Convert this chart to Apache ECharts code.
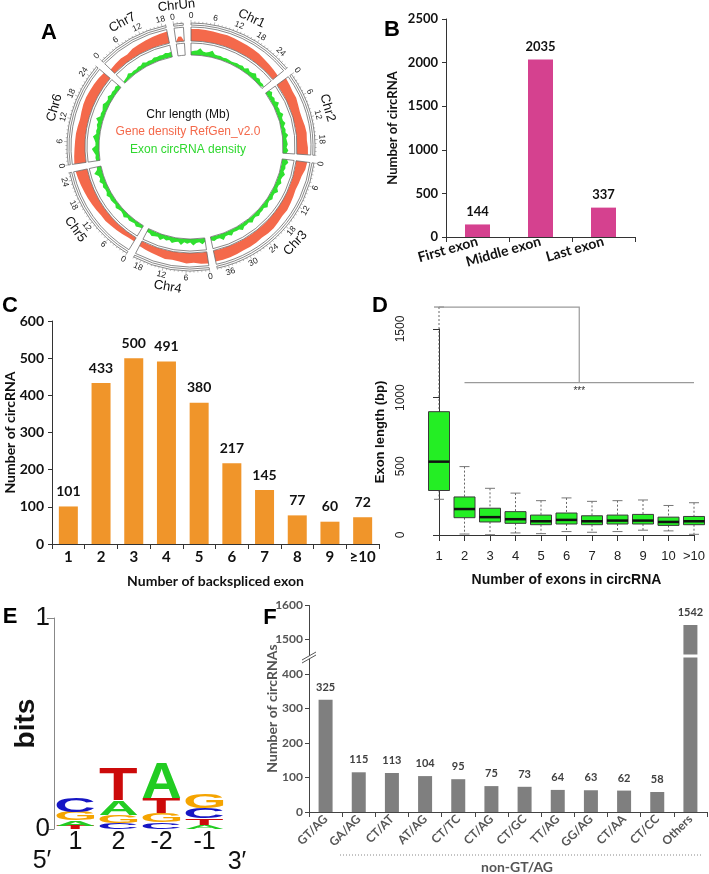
<!DOCTYPE html>
<html><head><meta charset="utf-8">
<script src="https://cdn.jsdelivr.net/npm/echarts@6/dist/echarts.min.js"></script>
<style>html,body{margin:0;padding:0;background:#fff}#c{width:709px;height:874px}</style>
</head><body><div id="c"></div>
<script>
// ================= DATA =================
// Panel A: circos
const chrNames = ['Chr1','Chr2','Chr3','Chr4','Chr5','Chr6','Chr7','ChrUn'];
const chrLengths = [28, 22, 39, 20, 26, 27, 19, 2.5];
const tickStep = 6;
const geneChr1 = [0.85,0.88,0.85,0.82,0.8,0.82,0.78,0.75,0.72,0.7,0.68,0.6,0.55,0.5,0.45];
const geneChr2 = [0.8,0.75,0.7,0.72,0.65,0.6,0.62,0.7,0.75,0.72,0.78,0.8];
const geneChr3 = [0.8,0.75,0.6,0.55,0.5,0.55,0.6,0.65,0.6,0.65,0.7,0.7,0.65,0.7,0.72,0.7,0.75,0.78,0.8,0.8];
const geneChr4 = [0.85,0.8,0.7,0.75,0.65,0.6,0.65,0.55,0.5,0.45,0.4];
const geneChr5 = [0.3,0.3,0.35,0.4,0.45,0.5,0.5,0.55,0.6,0.65,0.7,0.75,0.8,0.85];
const geneChr6 = [0.85,0.8,0.75,0.72,0.7,0.65,0.6,0.65,0.7,0.72,0.7,0.68,0.65,0.6];
const geneChr7 = [0.4,0.45,0.5,0.45,0.6,0.65,0.7,0.75,0.8,0.85];
const geneChrUn = [0,0.35,0.35,0];
const exonChr1 = [0.3,0.35,0.4,0.6,0.35,0.3,0.4,0.55,0.3,0.28,0.3,0.25,0.28,0.25,0.22,0.25,0.3,0.28,0.35,0.25,0.45,0.3,0.35,0.5,0.3,0.4,0.25,0.3,0.2];
const exonChr2 = [0.35,0.5,0.3,0.4,0.3,0.55,0.3,0.35,0.3,0.5,0.3,0.3,0.45,0.25,0.35,0.3,0.5,0.3,0.35,0.4,0.3,0.45,0.3];
const exonChr3 = [0.4,0.55,0.35,0.4,0.3,0.5,0.35,0.3,0.45,0.3,0.3,0.5,0.3,0.3,0.4,0.25,0.3,0.45,0.25,0.3,0.3,0.4,0.25,0.3,0.45,0.25,0.3,0.3,0.5,0.3,0.3,0.25,0.45,0.3,0.3,0.55,0.3,0.3,0.4,0.3];
const exonChr4 = [0.3,0.5,0.3,0.35,0.55,0.3,0.4,0.3,0.55,0.3,0.35,0.5,0.3,0.4,0.3,0.5,0.3,0.35,0.45,0.3,0.3];
const exonChr5 = [0.25,0.3,0.4,0.25,0.3,0.35,0.25,0.45,0.3,0.25,0.3,0.4,0.25,0.3,0.35,0.3,0.45,0.3,0.3,0.4,0.3,0.5,0.35,0.4,0.7,0.4,0.35];
const exonChr6 = [0.3,0.35,0.3,0.45,0.6,0.3,0.3,0.4,0.55,0.3,0.35,0.3,0.4,0.35,0.6,0.3,0.35,0.3,0.4,0.5,0.35,0.3,0.45,0.3,0.35,0.3,0.4,0.3];
const exonChr7 = [0.15,0.2,0.25,0.4,0.25,0.3,0.25,0.35,0.3,0.45,0.3,0.35,0.3,0.4,0.35,0.4,0.35,0.45,0.4,0.45];
const exonChrUn = [];

// Panel B
const exonPosCats = ['First exon','Middle exon','Last exon'];
const exonPosCounts = [144, 2035, 337];

// Panel C
const bsExonCats = ['1','2','3','4','5','6','7','8','9','≥10'];
const bsExonCounts = [101, 433, 500, 491, 380, 217, 145, 77, 60, 72];

// Panel D
const exonNumCats = ['1','2','3','4','5','6','7','8','9','10','>10'];
const lenMin    = [260,   7,   2,  15,  10,  25,  20,  25,  35,  30,   5];
const lenQ1     = [324, 126,  95,  85,  75,  80,  75,  80,  80,  70,  75];
const lenMedian = [534, 189, 130, 115, 100, 110, 100, 105, 105,  95, 100];
const lenQ3     = [898, 277, 195, 170, 145, 160, 140, 145, 150, 130, 135];
const lenMax    = [1660,498, 340, 305, 250, 270, 245, 250, 255, 215, 235];
const sigStart = 0, sigX = 5.5, sigFrom = 1, sigTo = 10, sigTop = 1660, sigBottom = 1110, sigLabel = '***';

// Panel E
const logoPositions = ['1','2','-2','-1'];
const logoLetters = ['A','C','G','T'];
const logoA = [0.025, 0.070, 0.166, 0.019];
const logoC = [0.065, 0.028, 0.033, 0.047];
const logoG = [0.040, 0.038, 0.043, 0.071];
const logoT = [0.015, 0.152, 0.071, 0.033];

// Panel F
const spliceCats = ['GT/AG','GA/AG','CT/AT','AT/AG','CT/TC','CT/AG','CT/GC','TT/AG','GG/AG','CT/AA','CT/CC','Others'];
const spliceCounts = [325, 115, 113, 104, 95, 75, 73, 64, 63, 62, 58, 1542];
const spliceBreak = [400, 1500];

// ================= STYLE / LAYOUT =================
const RED = '#f4694b', GREEN = '#2fe02f', MAG = '#d5418f', ORG = '#f0952a', GRY = '#7f7f7f';
const CX = 191, CY = 147, GAP_MB = 2;
const ARIAL = '"Liberation Sans", Arial, sans-serif';
const CAL = 'Lato, "Open Sans", sans-serif';
const plain = v => String(v);

const geneArrays = [geneChr1, geneChr2, geneChr3, geneChr4, geneChr5, geneChr6, geneChr7, geneChrUn];
const exonArrays = [exonChr1, exonChr2, exonChr3, exonChr4, exonChr5, exonChr6, exonChr7, exonChrUn];
const offsets = []; let acc = 0;
chrLengths.forEach(l => { offsets.push(acc); acc += l + GAP_MB; });
const TOTAL = acc;

function profileData(arrays) {
  const out = [];
  arrays.forEach((vals, ci) => {
    if (!vals.length) return;
    const L = chrLengths[ci];
    vals.forEach((v, k) => out.push([v, offsets[ci] + L * k / (vals.length - 1)]));
    out.push(['-', offsets[ci] + L + GAP_MB / 2]);
  });
  return out;
}
function angOf(p, cs) { return Math.atan2(p[1] - cs.cy, p[0] - cs.cx); }
function tangentRot(dx, dy) {
  let phi = Math.atan2(dx, -dy);
  if (phi < 0) phi += 2 * Math.PI;
  if (phi > Math.PI / 2 && phi < 3 * Math.PI / 2) phi -= Math.PI;
  return -phi;
}
function txt(x, y, text, font, fill, rot) {
  return { type: 'text', x, y, rotation: rot || 0,
    style: { text, font, fill, align: 'center', verticalAlign: 'middle', textAlign: 'center', textVerticalAlign: 'middle' } };
}
function frameRender(params, api) {
  const cs = params.coordSys;
  const a0 = angOf(api.coord([1, api.value(0)]), cs), a1 = angOf(api.coord([1, api.value(1)]), cs);
  return { type: 'sector', shape: { cx: cs.cx, cy: cs.cy, r0: cs.r0, r: cs.r, startAngle: a0, endAngle: a1, clockwise: true },
    style: { fill: 'none', stroke: '#6b6b6b', lineWidth: 0.8 } };
}
const frameData = chrLengths.map((l, i) => [offsets[i], offsets[i] + l]);
const tickData = [], tickLabels = [];
chrLengths.forEach((L, ci) => {
  for (let m = 0; m <= L; m += 1) {
    tickData.push([1, offsets[ci] + m, m % tickStep === 0 ? 1 : 0]);
    tickLabels.push(m % tickStep === 0 ? String(m) : '');
  }
});
function tickRender(params, api) {
  const cs = params.coordSys;
  const p = api.coord([1, api.value(1)]);
  const dx = (p[0] - cs.cx) / cs.r, dy = (p[1] - cs.cy) / cs.r;
  const len = api.value(2) === 1 ? 3 : 1.6;
  const ch = [{ type: 'line', shape: { x1: cs.cx + dx * cs.r, y1: cs.cy + dy * cs.r, x2: cs.cx + dx * (cs.r + len), y2: cs.cy + dy * (cs.r + len) },
    style: { stroke: '#777', lineWidth: 0.5 } }];
  const lab = tickLabels[params.dataIndex];
  if (lab) { const rr = cs.r + 7; ch.push(txt(cs.cx + dx * rr, cs.cy + dy * rr, lab, '8.5px ' + ARIAL, '#222', tangentRot(dx, dy))); }
  return { type: 'group', children: ch };
}
const chrLabelData = chrLengths.map((l, i) => [1, offsets[i] + l / 2]);
function chrLabelRender(params, api) {
  const cs = params.coordSys;
  const p = api.coord([1, api.value(1)]);
  const dx = (p[0] - cs.cx) / cs.r, dy = (p[1] - cs.cy) / cs.r;
  const rr = cs.r + 18;
  return txt(cs.cx + dx * rr, cs.cy + dy * rr, chrNames[params.dataIndex], '13px ' + ARIAL, '#111', tangentRot(dx, dy));
}

// Panel D custom
const boxData = exonNumCats.map((c, i) => [i, lenMin[i], lenQ1[i], lenMedian[i], lenQ3[i], lenMax[i]]);
function boxRender(params, api) {
  const i = api.value(0);
  const x = api.coord([i, 0])[0];
  const y = k => api.coord([i, api.value(k)])[1];
  const yMin = y(1), yQ1 = y(2), yMed = y(3), yQ3 = y(4), yMax = y(5);
  const hw = 10.5, cw = 5;
  const dash = { stroke: '#555', lineWidth: 0.9, lineDash: [2, 2] };
  const cap = { stroke: '#777', lineWidth: 1 };
  return { type: 'group', children: [
    { type: 'line', shape: { x1: x, y1: yMax, x2: x, y2: yQ3 }, style: dash },
    { type: 'line', shape: { x1: x, y1: yQ1, x2: x, y2: yMin }, style: dash },
    { type: 'line', shape: { x1: x - cw, y1: yMax, x2: x + cw, y2: yMax }, style: cap },
    { type: 'line', shape: { x1: x - cw, y1: yMin, x2: x + cw, y2: yMin }, style: cap },
    { type: 'rect', shape: { x: x - hw, y: yQ3, width: 2 * hw, height: yQ1 - yQ3 }, style: { fill: '#24ee24', stroke: '#3a3a3a', lineWidth: 1 } },
    { type: 'line', shape: { x1: x - hw, y1: yMed, x2: x + hw, y2: yMed }, style: { stroke: '#111', lineWidth: 2.5 } }
  ] };
}
function sigRender(params, api) {
  const p0 = api.coord([sigStart, sigTop]), p1 = api.coord([sigX, sigTop]), p2 = api.coord([sigX, sigBottom]);
  const q0 = api.coord([sigFrom, sigBottom]), q1 = api.coord([sigTo, sigBottom]);
  const st = { stroke: '#9a9a9a', lineWidth: 1.2, fill: 'none' };
  return { type: 'group', children: [
    { type: 'polyline', shape: { points: [p0, p1, p2] }, style: st },
    { type: 'line', shape: { x1: q0[0], y1: q0[1], x2: q1[0], y2: q1[1] }, style: st },
    txt(p2[0], p2[1] + 9, sigLabel, '10px ' + ARIAL, '#333')
  ] };
}

// Panel E custom (sequence logo)
const LOGO_FONT = 'bold 100px ' + ARIAL;
const logoColors = { A: '#22cc22', C: '#1616c4', G: '#f5a400', T: '#cc0a0a' };
const logoHeights = [logoA, logoC, logoG, logoT];
const logoItems = [];
logoPositions.forEach((p, i) => {
  const stack = logoLetters.map((l, k) => ({ k, h: logoHeights[k][i] })).sort((a, b) => a.h - b.h);
  let base = 0;
  stack.forEach(s => { logoItems.push([i, base, base + s.h, s.k]); base += s.h; });
});
const mctx = document.createElement('canvas').getContext('2d');
mctx.font = LOGO_FONT; mctx.textBaseline = 'middle'; mctx.textAlign = 'left';
const glyph = {};
logoLetters.forEach(l => { const m = mctx.measureText(l);
  glyph[l] = { L: m.actualBoundingBoxLeft, R: m.actualBoundingBoxRight, A: m.actualBoundingBoxAscent, D: m.actualBoundingBoxDescent }; });
function logoRender(params, api) {
  const i = api.value(0), b = api.value(1), t = api.value(2), l = logoLetters[api.value(3)];
  const g = glyph[l];
  const w = api.size([1, 0])[0] * 0.88;
  const cx = api.coord([i, 0])[0];
  const yTop = api.coord([i, t])[1], yBot = api.coord([i, b])[1];
  const h = Math.max(yBot - yTop, 0.2);
  const sx = w / (g.L + g.R), sy = h / (g.A + g.D);
  return { type: 'text', x: cx - w / 2 + g.L * sx, y: yTop + g.A * sy, scaleX: sx, scaleY: sy,
    style: { text: l, font: LOGO_FONT, fill: logoColors[l], align: 'left', verticalAlign: 'middle', textAlign: 'left', textVerticalAlign: 'middle' } };
}

// ================= OPTION =================
const axLine = { show: true, lineStyle: { color: '#333', width: 1 } };
const axTick = { show: true, length: 4, lineStyle: { color: '#333' } };
const boldLab = (size, color) => ({ fontFamily: CAL, fontWeight: 'bold', fontSize: size, color: color || '#111' });
const polarCfg = (r0, r1) => ({ center: [CX, CY], radius: [r0, r1] });

const option = {
  animation: false,
  textStyle: { fontFamily: CAL },
  polar: [polarCfg(92, 104), polarCfg(106, 120), polarCfg(122, 124)],
  angleAxis: [0, 1, 2].map(i => ({ polarIndex: i, type: 'value', min: 0, max: TOTAL, startAngle: 90, clockwise: true, show: false })),
  radiusAxis: [0, 1, 2].map(i => ({ polarIndex: i, type: 'value', min: 0, max: 1, show: false })),
  grid: [
    { left: 446, top: 19, width: 189, height: 218, outerBoundsMode: 'none', containLabel: false },
    { left: 52, top: 321, width: 327, height: 223, outerBoundsMode: 'none', containLabel: false },
    { left: 439, top: 329, width: 255, height: 206, outerBoundsMode: 'none', containLabel: false },
    { left: 54, top: 618, width: 172, height: 211, outerBoundsMode: 'none', containLabel: false },
    { left: 309, top: 605, width: 398, height: 207, outerBoundsMode: 'none', containLabel: false }
  ],
  xAxis: [
    { gridIndex: 0, type: 'category', data: exonPosCats, axisLine: axLine, axisTick: { show: true, length: 5, lineStyle: { color: '#333' } },
      axisLabel: Object.assign(boldLab(14), { rotate: 16, interval: 0, margin: 4 }) },
    { gridIndex: 1, type: 'category', data: bsExonCats, axisLine: axLine, axisTick: { show: true, length: 5, lineStyle: { color: '#333' } },
      axisLabel: Object.assign(boldLab(15), { interval: 0, margin: 6 }),
      name: 'Number of backspliced exon', nameLocation: 'middle', nameGap: 30, nameMoveOverlap: false, nameTextStyle: boldLab(14) },
    { gridIndex: 2, type: 'value', min: 0, max: 10, interval: 1, offset: 8, splitLine: { show: false },
      axisLine: { show: true, lineStyle: { color: '#333' } }, axisTick: { show: true, length: 6, lineStyle: { color: '#333' } },
      axisLabel: { fontFamily: ARIAL, fontSize: 13, color: '#222', margin: 7, formatter: v => exonNumCats[v] },
      name: 'Number of exons in circRNA', nameLocation: 'middle', nameGap: 30, nameMoveOverlap: false,
      nameTextStyle: { fontFamily: ARIAL, fontWeight: 'bold', fontSize: 14, color: '#111' } },
    { gridIndex: 3, type: 'category', data: logoPositions, axisLine: { show: false }, axisTick: { show: false },
      axisLabel: { fontFamily: ARIAL, fontSize: 25, color: '#111', margin: 1 } },
    { gridIndex: 4, type: 'category', data: spliceCats, axisLine: { show: true, lineStyle: { color: '#444' } },
      axisTick: { show: true, length: 5, lineStyle: { color: '#444' } },
      axisLabel: Object.assign(boldLab(12, '#555'), { rotate: 45, interval: 0, margin: 5 }) }
  ],
  yAxis: [
    { gridIndex: 0, type: 'value', min: 0, max: 2500, interval: 500, splitLine: { show: false }, axisLine: axLine, axisTick: axTick,
      axisLabel: Object.assign(boldLab(13), { margin: 8, formatter: plain }),
      name: 'Number of circRNA', nameLocation: 'middle', nameGap: 47, nameMoveOverlap: false, nameTextStyle: boldLab(13) },
    { gridIndex: 1, type: 'value', min: 0, max: 600, interval: 100, splitLine: { show: false }, axisLine: axLine, axisTick: axTick,
      axisLabel: Object.assign(boldLab(14), { margin: 8, formatter: plain }),
      name: 'Number of circRNA', nameLocation: 'middle', nameGap: 35, nameMoveOverlap: false, nameTextStyle: boldLab(14) },
    { gridIndex: 2, type: 'value', min: 0, max: 1500, interval: 500, offset: 24, splitLine: { show: false },
      axisLine: { show: true, lineStyle: { color: '#333' } }, axisTick: { show: true, length: 6, lineStyle: { color: '#333' } },
      axisLabel: { fontFamily: ARIAL, fontSize: 12, color: '#222', rotate: 90, margin: 8, formatter: plain },
      name: 'Exon length (bp)', nameLocation: 'middle', nameGap: 28, nameMoveOverlap: false,
      nameTextStyle: { fontFamily: ARIAL, fontWeight: 'bold', fontSize: 13, color: '#111' } },
    { gridIndex: 3, type: 'value', min: 0, max: 1, interval: 1, splitLine: { show: false },
      axisLine: { show: true, lineStyle: { color: '#888' } }, axisTick: { show: true, length: 7, lineStyle: { color: '#888' } },
      axisLabel: { fontFamily: ARIAL, fontSize: 26, color: '#111', margin: 4 },
      name: 'bits', nameLocation: 'middle', nameGap: 14, nameMoveOverlap: false,
      nameTextStyle: { fontFamily: ARIAL, fontWeight: 'bold', fontSize: 28, color: '#111' } },
    { gridIndex: 4, type: 'value', min: 0, max: 1600, interval: 100, splitLine: { show: false },
      breaks: [{ start: spliceBreak[0], end: spliceBreak[1], gap: '16.6%' }],
      breakArea: { show: false },
      axisLine: { show: true, lineStyle: { color: '#444' } }, axisTick: { show: true, length: 4, lineStyle: { color: '#444' } },
      axisLabel: Object.assign(boldLab(12, '#555'), { margin: 6, hideOverlap: false, formatter: plain }),
      name: 'Number of circRNAs', nameLocation: 'middle', nameGap: 30, nameMoveOverlap: false, nameTextStyle: boldLab(14, '#555') }
  ],
  series: [
    // Panel A
    { type: 'line', coordinateSystem: 'polar', polarIndex: 0, data: profileData(exonArrays), symbol: 'none', silent: true,
      lineStyle: { width: 0 }, areaStyle: { color: GREEN, opacity: 1 } },
    { type: 'line', coordinateSystem: 'polar', polarIndex: 1, data: profileData(geneArrays), symbol: 'none', silent: true,
      lineStyle: { width: 0 }, areaStyle: { color: RED, opacity: 1 } },
    { type: 'custom', coordinateSystem: 'polar', polarIndex: 0, data: frameData, renderItem: frameRender, silent: true, z: 5 },
    { type: 'custom', coordinateSystem: 'polar', polarIndex: 1, data: frameData, renderItem: frameRender, silent: true, z: 5 },
    { type: 'custom', coordinateSystem: 'polar', polarIndex: 2, data: frameData, renderItem: frameRender, silent: true, z: 5 },
    { type: 'custom', coordinateSystem: 'polar', polarIndex: 2, data: tickData, renderItem: tickRender, silent: true, z: 5 },
    { type: 'custom', coordinateSystem: 'polar', polarIndex: 2, data: chrLabelData, renderItem: chrLabelRender, silent: true, z: 5 },
    // Panel B
    { type: 'bar', xAxisIndex: 0, yAxisIndex: 0, data: exonPosCounts, barWidth: 25, itemStyle: { color: MAG },
      label: Object.assign({ show: true, position: 'top', distance: 6 }, boldLab(13)) },
    // Panel C
    { type: 'bar', xAxisIndex: 1, yAxisIndex: 1, data: bsExonCounts, barWidth: 19, itemStyle: { color: ORG },
      label: Object.assign({ show: true, position: 'top', distance: 8 }, boldLab(14)) },
    // Panel D
    { type: 'custom', xAxisIndex: 2, yAxisIndex: 2, data: boxData, renderItem: boxRender, clip: false, silent: true },
    { type: 'custom', xAxisIndex: 2, yAxisIndex: 2, data: [[sigX, sigTop]], renderItem: sigRender, clip: false, silent: true },
    // Panel E
    { type: 'custom', xAxisIndex: 3, yAxisIndex: 3, data: logoItems, renderItem: logoRender, clip: false, silent: true },
    // Panel F
    { type: 'bar', xAxisIndex: 4, yAxisIndex: 4, data: spliceCounts, barWidth: 14, itemStyle: { color: GRY },
      label: Object.assign({ show: true, position: 'top', distance: 7 }, boldLab(11, '#404040')) }
  ],
  graphic: [
    txt(49, 33, 'A', 'bold 22px ' + ARIAL, '#000'),
    txt(392, 30, 'B', 'bold 22px ' + ARIAL, '#000'),
    txt(10, 306, 'C', 'bold 22px ' + ARIAL, '#000'),
    txt(380, 306, 'D', 'bold 22px ' + ARIAL, '#000'),
    txt(10, 617, 'E', 'bold 22px ' + ARIAL, '#000'),
    txt(270, 618, 'F', 'bold 22px ' + ARIAL, '#000'),
    txt(188, 115, 'Chr length (Mb)', '12px ' + ARIAL, '#111'),
    txt(188, 132, 'Gene density RefGen_v2.0', '12px ' + ARIAL, RED),
    txt(188, 150, 'Exon circRNA density', '12px ' + ARIAL, '#2fd82f'),
    txt(42, 861, '5′', '25px ' + ARIAL, '#111'),
    txt(237, 862, '3′', '25px ' + ARIAL, '#111'),
    { type: 'line', z: 99, shape: { x1: 309.5, y1: 638, x2: 309.5, y2: 675 }, style: { stroke: '#444', lineWidth: 1 } },
    { type: 'rect', z: 100, shape: { x: 318, y: 654.5, width: 389, height: 3 }, style: { fill: '#fff', stroke: 'none' } },
    { type: 'polygon', z: 100, shape: { points: [[302, 660], [316, 652], [316, 655], [302, 663]] }, style: { fill: '#fff', stroke: 'none' } },
    { type: 'line', z: 101, shape: { x1: 302, y1: 660, x2: 316, y2: 652 }, style: { stroke: '#555', lineWidth: 1 } },
    { type: 'line', z: 101, shape: { x1: 302, y1: 663, x2: 316, y2: 655 }, style: { stroke: '#555', lineWidth: 1 } },
    { type: 'line', shape: { x1: 340, y1: 855, x2: 702, y2: 855 }, style: { stroke: '#888', lineWidth: 1, lineDash: [1, 2] } },
    txt(517, 867, 'non-GT/AG', 'bold 14px ' + CAL, '#555')
  ]
};
const chart = echarts.init(document.getElementById('c'), null, { renderer: 'canvas' });
chart.setOption(option);
</script></body></html>
